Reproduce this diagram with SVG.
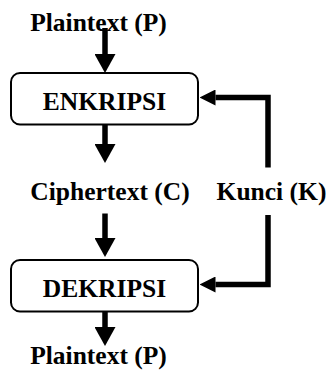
<svg xmlns="http://www.w3.org/2000/svg" width="329" height="370" viewBox="0 0 329 370">
  <style>
    .lbl { font-family: "Liberation Serif", "Times New Roman", serif; font-weight: bold; font-size: 25.5px; fill: #000; }
    .box { fill: #fff; stroke: #000; stroke-width: 2; }
    .wire { fill: none; stroke: #000; stroke-width: 5.5; stroke-linejoin: miter; stroke-linecap: butt; }
  </style>
  <defs>
    <marker id="head-v" markerUnits="userSpaceOnUse" viewBox="0 0 19 21" markerWidth="19" markerHeight="21" refX="0" refY="10.5" orient="auto">
      <path d="M0,0 L19,10.5 L0,21 Z" fill="#000"/>
    </marker>
    <marker id="head-h" markerUnits="userSpaceOnUse" viewBox="0 0 16 16" markerWidth="16" markerHeight="16" refX="0" refY="8" orient="auto">
      <path d="M0,0 L16,8 L0,16 Z" fill="#000"/>
    </marker>
  </defs>

  <rect width="329" height="370" fill="#fff"/>

  <!-- connectors -->
  <g id="connectors">
    <path class="wire" d="M105,28 V54" marker-end="url(#head-v)"/>
    <path class="wire" d="M105,125 V144" marker-end="url(#head-v)"/>
    <path class="wire" d="M105,213.5 V238" marker-end="url(#head-v)"/>
    <path class="wire" d="M105,312 V327" marker-end="url(#head-v)"/>
    <path class="wire" d="M268,167.5 V97.5 H215.5" marker-end="url(#head-h)"/>
    <path class="wire" d="M268,215 V284.5 H215.5" marker-end="url(#head-h)"/>
  </g>

  <g id="plaintext-in">
    <text class="lbl" x="98.5" y="31" text-anchor="middle">Plaintext (P)</text>
  </g>

  <g id="enkripsi">
    <rect class="box" x="11" y="73" width="187" height="51.5" rx="9"/>
    <text class="lbl" x="104.5" y="110" text-anchor="middle">ENKRIPSI</text>
  </g>

  <g id="ciphertext">
    <text class="lbl" x="110" y="200" text-anchor="middle">Ciphertext (C)</text>
  </g>

  <g id="kunci">
    <text class="lbl" x="271.5" y="200" text-anchor="middle">Kunci (K)</text>
  </g>

  <g id="dekripsi">
    <rect class="box" x="11" y="260" width="187" height="51.5" rx="9"/>
    <text class="lbl" x="104.5" y="296.5" text-anchor="middle">DEKRIPSI</text>
  </g>

  <g id="plaintext-out">
    <text class="lbl" x="98.5" y="363.5" text-anchor="middle">Plaintext (P)</text>
  </g>
</svg>
